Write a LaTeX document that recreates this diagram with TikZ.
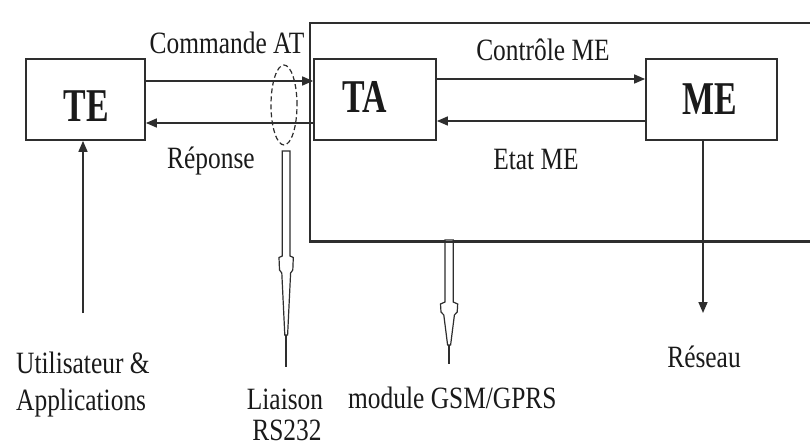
\documentclass[tikz,border=0pt]{standalone}
\usepackage{fontspec}
\setmainfont{Liberation Serif}[FakeStretch=0.82]
\newfontfamily\boldlbl{Liberation Serif}[FakeStretch=0.72]
\usetikzlibrary{arrows.meta,shapes.geometric}
\definecolor{ink}{HTML}{2E2E2E}
\definecolor{txt}{HTML}{1A1A1A}
\tikzset{
  box/.style={draw=ink,line width=1.8pt,rectangle,inner sep=0pt},
  lbl/.style={text=txt,inner sep=0pt,font=\fontsize{31}{34}\selectfont},
  big/.style={text=txt,inner sep=0pt,font=\boldlbl\bfseries\fontsize{47}{50}\selectfont},
  arr/.style={draw=ink,line width=1.6pt,-{Triangle[length=11pt,width=9pt]}},
  hollow/.style={draw=ink,line width=1.2pt,fill=white,line join=miter},
  tail/.style={draw=ink,line width=1.6pt},
}
\begin{document}
\begin{tikzpicture}[x=1pt,y=-1pt]
\clip (0,0) rectangle (810,446);
\fill[white] (0,0) rectangle (810,446);
% modules frame (open at the right)
\node[box,minimum width=540,minimum height=218,anchor=north west] (GSM) at (309,22) {};
% boxes
\node[box,minimum width=119,minimum height=81] (TE) at (85.5,99.5) {};
\node[box,minimum width=122,minimum height=81] (TA) at (375,99.5) {};
\node[box,minimum width=131,minimum height=81] (ME) at (711.5,99.5) {};
\node[big,anchor=base] (TEt) at (86,121.5) {TE};
\node[big,anchor=base] (TAt) at (365,113) {TA};
\node[big,anchor=base] (MEt) at (710,115) {ME};
% TE <-> TA
\draw[arr] ([yshift=18.5pt]TE.east) -- ([yshift=18.5pt]TA.west);
\draw[arr] ([yshift=-23.5pt]TA.west) -- ([yshift=-23.5pt]TE.east);
% TA <-> ME
\draw[arr] ([yshift=20.5pt]TA.east) -- ([yshift=20.5pt]ME.west);
\draw[arr] ([yshift=-21.5pt]ME.west) -- ([yshift=-21.5pt]TA.east);
% link ellipse
\node[draw=ink,dash pattern=on 5pt off 3pt,line width=1.2pt,ellipse,minimum width=26,minimum height=80,inner sep=0pt] (link) at (284,105) {};
% labels on arrows
\node[lbl,anchor=base] (cmd) at (227,54) {Commande AT};
\node[lbl,anchor=base] (rep) at (211,169) {Réponse};
\node[lbl,anchor=base] (ctl) at (543,61) {Contrôle ME};
\node[lbl,anchor=base] (etat) at (536,170) {Etat ME};
% bottom labels
\node[lbl,anchor=base west] (user1) at (16,373) {Utilisateur \&};
\node[lbl,anchor=base west] (user2) at (16,410) {Applications};
\node[lbl,anchor=base] (liai) at (285,409) {Liaison};
\node[lbl,anchor=base] (rs) at (287,440) {RS232};
\node[lbl,anchor=base west] (mod) at (348,408) {module GSM/GPRS};
\node[lbl,anchor=base] (res) at (704,367) {Réseau};
% user -> TE
\coordinate (userTop) at (83,313);
\draw[arr] (userTop) -- (userTop |- TE.south);
% ME -> network
\coordinate (netTip) at (703,313);
\draw[arr] (ME.south -| netTip) -- (netTip);
% hollow arrow: RS232 link
\draw[hollow] (282.3,151) -- (282.3,256) -- (279,257.5) -- (279.5,270) -- (281.8,273) -- (284.8,335) -- (287.6,335) -- (290.6,273) -- (292.8,270) -- (293.3,257.5) -- (290,256) -- (290,151) -- cycle;
\coordinate (rsTip) at (286.2,367);
\draw[tail] (286.2,335) -- (rsTip);
% hollow arrow: GSM/GPRS module
\draw[hollow] (445,240) -- (445,302) -- (440.5,304) -- (441,312) -- (443.8,315) -- (447.6,345) -- (450.6,345) -- (454.4,315) -- (457.2,312) -- (457.7,304) -- (453.2,302) -- (453.2,240) -- cycle;
\draw[box] (GSM.south west) -- (GSM.south east);
\coordinate (modTip) at (449.1,364);
\draw[tail,line width=2.2pt] (449.1,345) -- (modTip);
\end{tikzpicture}
\end{document}
